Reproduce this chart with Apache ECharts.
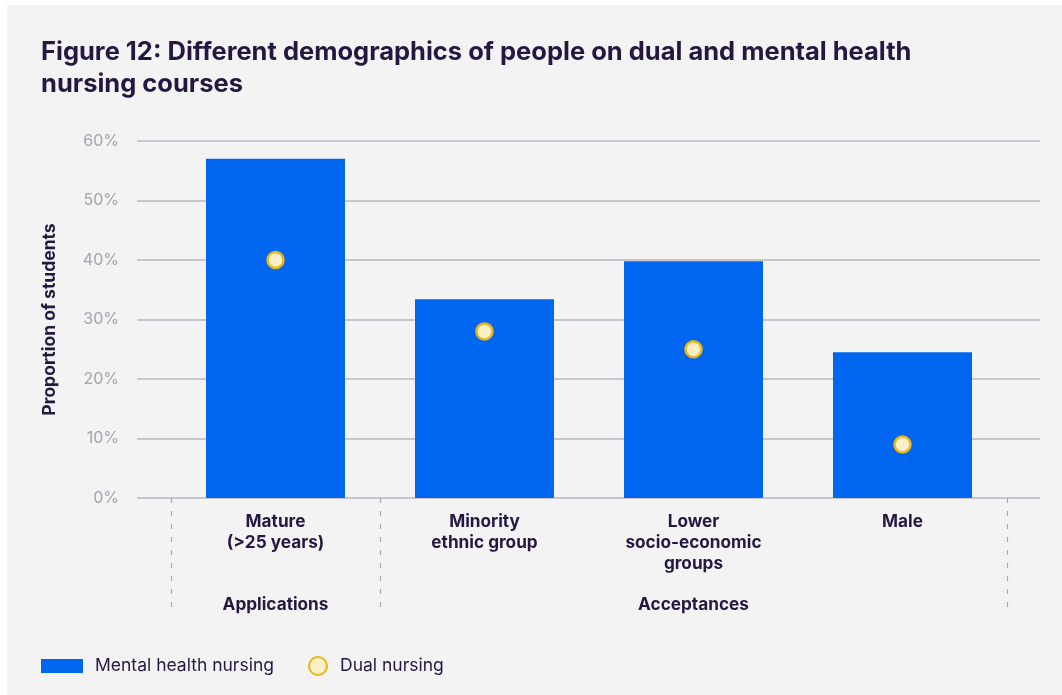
<!DOCTYPE html>
<html><head><meta charset="utf-8">
<script src="https://cdn.jsdelivr.net/npm/echarts@6/dist/echarts.min.js"></script>
<style>
html,body{margin:0;padding:0;background:#ffffff;}
#bg{position:absolute;left:7px;top:5px;width:1055px;height:690px;background:#f3f3f3;}
#chart{position:absolute;left:0;top:0;width:1062px;height:695px;}
</style></head>
<body>
<div id="bg"></div>
<div id="chart"></div>
<script>
const categories = ['Mature\n(>25 years)', 'Minority\nethnic group', 'Lower\nsocio-economic\ngroups', 'Male'];
const groupLabels = ['Applications', '', 'Acceptances', ''];
const mentalHealth = [57, 33.4, 39.8, 24.5];
const dualNursing = [40, 28, 25, 9];
const yTicks = { min: 0, max: 60, interval: 10 };

const dark = '#261741';
const font = 'Inter';
const chart = echarts.init(document.getElementById('chart'), null, { renderer: 'canvas' });
chart.setOption({
  backgroundColor: 'transparent',
  animation: false,
  title: {
    text: 'Figure 12: Different demographics of people on dual and mental health\nnursing courses',
    left: 36, top: 31,
    textStyle: { fontFamily: font, fontWeight: 'bold', fontSize: 25.5, lineHeight: 32, color: dark }
  },
  legend: [
    {
      data: ['Mental health nursing'], left: 41, top: 657, padding: 0,
      itemWidth: 42, itemHeight: 14, icon: 'rect',
      textStyle: { fontFamily: font, fontSize: 17.5, color: dark, padding: [0, 0, 0, 7] }
    },
    {
      data: ['Dual nursing'], left: 308, top: 656, padding: 0,
      itemWidth: 18, itemHeight: 18, icon: 'circle',
      textStyle: { fontFamily: font, fontSize: 17.5, color: dark, padding: [0, 0, 0, 8] }
    }
  ],
  grid: [
    { left: 137, right: 22, top: 141, bottom: 197 },
    { left: 171, right: 55, top: 141, bottom: 197 }
  ],
  xAxis: [
    {
      type: 'category', gridIndex: 1, data: categories, position: 'bottom',
      axisLine: { show: false }, axisTick: { show: false },
      axisLabel: { fontFamily: font, fontWeight: 'bold', fontSize: 17.2, lineHeight: 21, color: dark, margin: 13, verticalAlign: 'top' }
    },
    {
      type: 'category', gridIndex: 1, data: groupLabels, position: 'bottom',
      axisLine: { show: false },
      axisTick: { show: true, length: 114, interval: function (i) { return i <= 1; },
        lineStyle: { color: '#a9abb3', width: 1.2, type: [5, 8] } },
      axisLabel: { interval: 0, fontFamily: font, fontWeight: 'bold', fontSize: 17.2, color: dark, margin: 98, verticalAlign: 'top' }
    },
    { type: 'value', gridIndex: 0, show: false, min: 0, max: 1 }
  ],
  yAxis: [
    {
      type: 'value', gridIndex: 0, min: yTicks.min, max: yTicks.max, interval: yTicks.interval,
      name: 'Proportion of students', nameLocation: 'middle', nameGap: 78,
      nameTextStyle: { fontFamily: font, fontWeight: 'bold', fontSize: 17.5, color: dark },
      axisLine: { show: false }, axisTick: { show: false },
      axisLabel: { formatter: '{value}%', fontFamily: font, fontSize: 16, color: '#a2a3ad', margin: 18 },
      splitLine: { show: true, lineStyle: { color: '#b7b9c0', width: 1.5 } }
    },
    { type: 'value', gridIndex: 1, min: yTicks.min, max: yTicks.max, interval: yTicks.interval, show: false, splitLine: { show: false } }
  ],
  series: [
    {
      name: 'Mental health nursing', type: 'bar', xAxisIndex: 0, yAxisIndex: 1,
      data: mentalHealth, barWidth: 139,
      itemStyle: { color: '#0066ef' }, z: 2
    },
    {
      name: 'Dual nursing', type: 'scatter', xAxisIndex: 0, yAxisIndex: 1,
      data: dualNursing, symbol: 'circle', symbolSize: 16,
      itemStyle: { color: '#fcefc8', borderColor: '#e8b816', borderWidth: 2.5, opacity: 1 }, z: 5
    }
  ]
});
</script>
</body></html>
